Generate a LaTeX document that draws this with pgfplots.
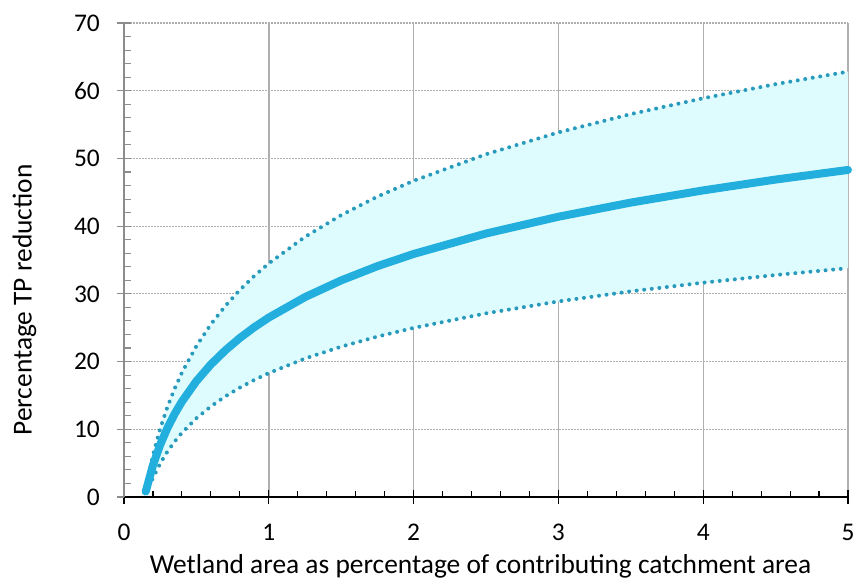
\documentclass[border=0pt]{standalone}
\usepackage{pgfplots}
\pgfplotsset{compat=1.18}
\usepgfplotslibrary{fillbetween}
\usepackage{fontspec}
\setmainfont{Carlito}
\definecolor{mainc}{RGB}{35,175,222}
\definecolor{dotc}{RGB}{40,155,188}
\definecolor{fillc}{RGB}{222,251,253}
\definecolor{gridc}{RGB}{175,175,175}
\begin{document}
\begin{tikzpicture}
\begin{axis}[
  set layers,
  at={(0,0)}, anchor=south west,
  scale only axis, width=724bp, height=474bp,
  xmin=0, xmax=5, ymin=0, ymax=70,
  xtick={0,1,2,3,4,5}, ytick={0,10,...,70},
  minor x tick num=4, minor y tick num=4,
  axis lines=left,
  x axis line style={black, line width=1.3bp, -},
  y axis line style={gridc!80!black, line width=1.3bp, -},
  tick align=center,
  major tick length=14bp, minor tick length=6bp,
  x tick style={black, line width=1.1bp},
  y tick style={gridc!80!black, line width=1.1bp},
  minor x tick style={yshift=3bp},
  minor y tick style={xshift=3.5bp},
  xmajorgrids, ymajorgrids,
  x grid style={gridc, line width=1.4bp},
  y grid style={gridc, line width=1.2bp, dash pattern=on 1.5bp off 1.5bp},
  /pgf/number format/assume math mode=true,
  tick label style={font=\fontsize{25.5}{30}\selectfont, black, inner sep=0pt},
  xticklabel style={anchor=north, yshift=-20bp},
  yticklabel style={anchor=east, xshift=-17bp},
  xlabel={Wetland area as percentage of contributing catchment area},
  ylabel={Percentage TP reduction},
  every axis x label/.style={at={(axis description cs:0.4924,-0.1624)}, anchor=base, font=\fontsize{27.5}{33}\selectfont},
  every axis y label/.style={at={(axis description cs:-0.1375,0.4156)}, rotate=90, anchor=center, font=\fontsize{27.5}{33}\selectfont},
  clip=false,
]
\addplot[name path=upper, dotc, line width=4bp, line cap=round, dash pattern=on 0pt off 7.6bp] table {
0.15 1.11
0.2 6.18
0.25 10.11
0.3 13.31
0.35 16.02
0.4 18.38
0.5 22.30
0.6 25.51
0.7 28.22
0.8 30.58
0.9 32.65
1 34.5
1.25 38.42
1.5 41.63
1.75 44.36
2 46.70
2.5 50.62
3 53.84
3.5 56.55
4 58.89
4.5 60.97
5 62.82
};
\addplot[name path=lower, dotc, line width=4bp, line cap=round, dash pattern=on 0pt off 7.6bp] table {
0.15 0.6
0.2 2.81
0.25 4.95
0.3 6.71
0.35 8.19
0.4 9.48
0.5 11.63
0.6 13.38
0.7 14.86
0.8 16.15
0.9 17.29
1 18.3
1.25 20.45
1.5 22.20
1.75 23.69
2 24.97
2.5 27.12
3 28.88
3.5 30.37
4 31.65
4.5 32.78
5 33.79
};
\addplot[fillc, on layer=axis background] fill between[of=upper and lower];
\addplot[mainc, line width=8bp, line cap=round] table {
0.15 0.80
0.2 4.70
0.25 7.72
0.3 10.19
0.35 12.28
0.4 14.09
0.5 17.11
0.6 19.58
0.7 21.66
0.8 23.48
0.9 25.08
1 26.5
1.25 29.52
1.5 31.99
1.75 34.09
2 35.89
2.5 38.91
3 41.39
3.5 43.48
4 45.28
4.5 46.88
5 48.30
};
\end{axis}
\pgfresetboundingbox
\useasboundingbox (-124bp,-83bp) rectangle (731bp,497bp);
\end{tikzpicture}
\end{document}
